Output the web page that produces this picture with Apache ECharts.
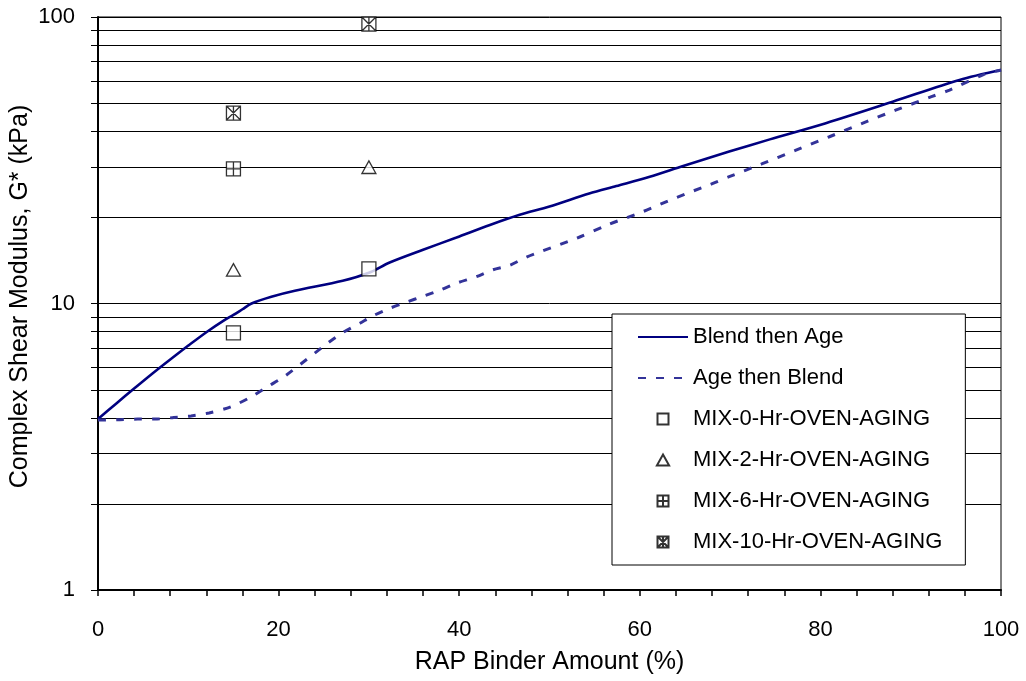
<!DOCTYPE html>
<html>
<head>
<meta charset="utf-8">
<script src="https://cdn.jsdelivr.net/npm/echarts@6/dist/echarts.min.js"></script>
<style>
html,body{margin:0;padding:0;background:#fff;}
#chart{width:1026px;height:681px;}
</style>
</head>
<body>
<div id="chart"></div>
<script>
// ---- data ----
const blendX = [0, 2, 4, 6, 8, 10, 12, 14, 15, 16, 17, 19.2, 21.8, 27.1, 30, 32.3, 36, 39.7, 43.4, 46.7, 50, 54.4, 57.4, 61.1, 64.8, 69.9, 74.4, 80.6, 88, 95.4, 100];
const blendY = [3.95, 4.47, 5.05, 5.69, 6.38, 7.13, 7.94, 8.75, 9.12, 9.55, 10.0, 10.56, 11.08, 12.0, 12.8, 13.9, 15.4, 17.0, 18.8, 20.4, 21.8, 24.2, 25.7, 27.7, 30.2, 33.9, 37.4, 42.6, 50.6, 60.3, 65.3];
const ageX = [0, 2.4, 4.4, 6.3, 8.4, 10.3, 12.3, 14.7, 17, 18.8, 20.7, 25.4, 27.1, 29, 30.4, 32.3, 34.1, 36, 37.8, 39.7, 41.9, 43.7, 45.6, 47.4, 49.1, 53, 56.6, 60.3, 64, 67.9, 69.9, 73.5, 77.3, 81, 84.7, 88.4, 92.3, 94.3, 98, 100];
const ageY = [3.92, 3.93, 3.95, 3.95, 4.0, 4.05, 4.15, 4.36, 4.73, 5.13, 5.58, 7.26, 7.91, 8.53, 9.04, 9.62, 10.1, 10.6, 11.1, 11.77, 12.4, 13.1, 13.6, 14.5, 15.2, 16.9, 18.9, 20.9, 23.4, 26.1, 27.7, 30.7, 34.3, 38.2, 42.6, 47.4, 52.7, 55.6, 62.8, 65.3];
const mix0X = [15, 30];  const mix0Y = [7.9, 13.2];
const mix2X = [15, 30];  const mix2Y = [13.1, 29.9];
const mix6X = [15];      const mix6Y = [29.5];
const mix10X = [15, 30]; const mix10Y = [46.2, 94.5];
const minorGrid = [2, 3, 4, 5, 6, 7, 8, 9, 20, 30, 40, 50, 60, 70, 80, 90];
const seriesNames = ['Blend then Age', 'Age then Blend', 'MIX-0-Hr-OVEN-AGING', 'MIX-2-Hr-OVEN-AGING', 'MIX-6-Hr-OVEN-AGING', 'MIX-10-Hr-OVEN-AGING'];
const xTitle = 'RAP Binder Amount (%)';
const yTitle = 'Complex Shear Modulus, G* (kPa)';

// ---- helpers ----
const zip = (xs, ys) => xs.map((x, i) => [x, ys[i]]);
const FONT = '"Liberation Sans", Arial, sans-serif';
const symSquare = 'path://M0,0H10V10H0Z';
const symTri = 'path://M5,0L10,9L0,9Z';
const symPlus = 'path://M0,0H10V10H0Z M5,0V10 M0,5H10';
const symX = 'path://M0,0H10V10H0Z M0,0L10,10 M10,0L0,10 M5,0V10';
const markerStyle = { color: '#fff', borderColor: '#000', borderWidth: 1.3 };
const hiddenIcon = { color: 'rgba(0,0,0,0)', borderColor: 'rgba(0,0,0,0)', borderWidth: 0 };

const chart = echarts.init(document.getElementById('chart'), null, { renderer: 'canvas' });

function scatter(name, xs, ys, sym) {
  return {
    name: name, type: 'scatter', data: zip(xs, ys),
    symbol: sym, symbolSize: 14, symbolKeepAspect: true,
    itemStyle: markerStyle, z: 5, emphasis: { disabled: true }
  };
}

const option = {
  backgroundColor: '#fff',
  animation: false,
  textStyle: { fontFamily: FONT },
  grid: { left: 98, right: 25, top: 17, bottom: 91, outerBoundsMode: 'none', containLabel: false, show: true, borderColor: '#000', borderWidth: 1, backgroundColor: 'transparent' },
  xAxis: {
    type: 'value', min: 0, max: 100, interval: 20,
    name: xTitle, nameLocation: 'middle', nameGap: 60, nameMoveOverlap: false,
    nameTextStyle: { fontSize: 25, color: '#000', fontFamily: FONT },
    axisLine: { show: true, lineStyle: { color: '#000', width: 2 } },
    axisTick: { show: true, inside: false, length: 6, lineStyle: { color: '#000', width: 1.5 } },
    minorTick: { show: true, splitNumber: 5, length: 6, lineStyle: { color: '#000', width: 1.5 } },
    axisLabel: { fontSize: 22, color: '#000', margin: 29, fontFamily: FONT },
    splitLine: { show: false }
  },
  yAxis: {
    type: 'log', logBase: 10, min: 1, max: 100,
    name: yTitle, nameLocation: 'middle', nameGap: 65, nameMoveOverlap: false,
    nameTextStyle: { fontSize: 25, color: '#000', fontFamily: FONT, padding: [0, 0, 0, 14] },
    axisLine: { show: true, lineStyle: { color: '#000', width: 2 } },
    axisTick: { show: true, inside: false, length: 7, lineStyle: { color: '#000', width: 1 } },
    axisLabel: { fontSize: 22, color: '#000', margin: 23, fontFamily: FONT },
    splitLine: { show: true, lineStyle: { color: '#000', width: 1 } }
  },
  legend: {
    orient: 'vertical', left: 612, top: 314,
    data: [
      { name: seriesNames[0], itemStyle: hiddenIcon },
      { name: seriesNames[1], itemStyle: hiddenIcon },
      seriesNames[2], seriesNames[3], seriesNames[4], seriesNames[5]
    ],
    backgroundColor: '#fff', borderColor: '#000', borderWidth: 1,
    padding: [12, 23, 12, 25],
    itemWidth: 50, itemHeight: 11, itemGap: 19,
    textStyle: { fontSize: 22, color: '#000', fontFamily: FONT, lineHeight: 22 },
    selectedMode: false, inactiveColor: '#000'
  },
  series: [
    {
      name: 'grid', type: 'custom', silent: true, z: 1,
      data: minorGrid.map(v => [0, v]),
      renderItem: function (params, api) {
        const v = api.value(1);
        const p0 = api.coord([0, v]);
        const p1 = api.coord([100, v]);
        const y = Math.round(p0[1]) + 0.5;
        return { type: 'line', shape: { x1: p0[0] - 7, y1: y, x2: p1[0], y2: y }, style: { stroke: '#000', lineWidth: 1 } };
      }
    },
    {
      name: seriesNames[0], type: 'line', data: zip(blendX, blendY),
      smooth: 0.3, symbol: 'none', showSymbol: false, z: 3,
      lineStyle: { color: '#000080', width: 2.6 }, itemStyle: { color: '#000080' }
    },
    {
      name: seriesNames[1], type: 'line', data: zip(ageX, ageY),
      smooth: 0.3, symbol: 'none', showSymbol: false, z: 3,
      lineStyle: { color: '#333399', width: 3, type: [8, 10] }, itemStyle: { color: '#333399' }
    },
    scatter(seriesNames[2], mix0X, mix0Y, symSquare),
    scatter(seriesNames[3], mix2X, mix2Y, symTri),
    scatter(seriesNames[4], mix6X, mix6Y, symPlus),
    scatter(seriesNames[5], mix10X, mix10Y, symX)
  ]
};
chart.setOption(option);
</script>
</body>
</html>
